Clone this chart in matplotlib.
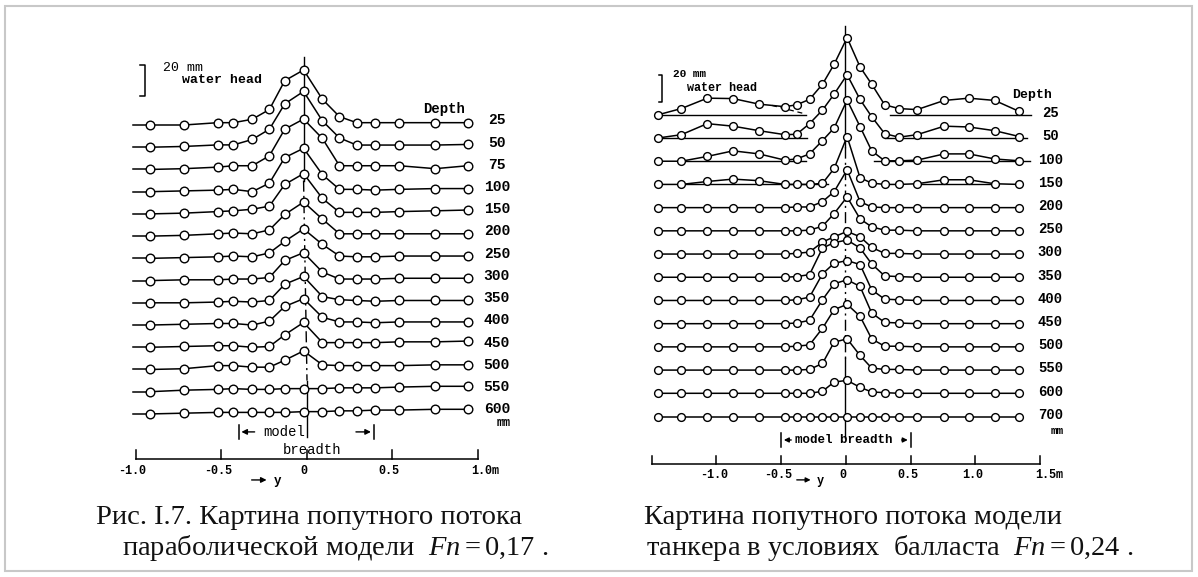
import numpy as np
import matplotlib.pyplot as plt
from matplotlib.patches import Rectangle

plt.rcParams['font.family'] = ['Liberation Serif', 'DejaVu Serif']
plt.rcParams['mathtext.fontset'] = 'custom'
plt.rcParams['mathtext.rm'] = 'Liberation Serif'
plt.rcParams['mathtext.it'] = 'Liberation Serif:italic'
MONO = ['Liberation Mono', 'DejaVu Sans Mono']

# ---- left: parabolic model, Fn = 0.17 (wake in mm water head) ----
depths_a = ['25', '50', '75', '100', '150', '200', '250', '300', '350',
            '400', '450', '500', '550', '600']
y_a = [-0.92, -0.72, -0.52, -0.43, -0.32, -0.22, -0.13, -0.02, 0.09, 0.19,
       0.29, 0.40, 0.54, 0.75, 0.94]
head_a = [
    [0, 0, 1.5, 1.5, 3.7, 10, 28.6, 35.5, 16.6, 5.4, 1.5, 1.5, 1.5, 1.5, 1.5],
    [0, 0.5, 1.5, 1.5, 5, 11.6, 28, 36, 17, 6, 1.4, 1.4, 1.4, 1.4, 1.8],
    [0, 0.5, 1.5, 2.4, 2.4, 8.8, 26, 32.5, 20, 2.4, 2.4, 2.4, 2.4, 0.5, 2.4],
    [0, 0.5, 1, 1.5, 0, 5.5, 22, 28, 11, 1.5, 1.5, 1, 1.5, 2, 2],
    [0, 0.5, 1.5, 2, 3, 5, 19, 26, 10, 1, 1, 1, 1.5, 2, 2.5],
    [0, 0.5, 1.5, 2, 1.5, 4, 14, 22, 11, 1.5, 1.5, 1.5, 1.5, 1.5, 1.5],
    [0, 0.5, 1, 1.5, 1, 3.5, 11, 19, 9, 1.5, 1, 1, 1.5, 1.5, 1.5],
    [0, 0.5, 0.5, 1, 1, 2, 13, 18, 5.5, 1, 1, 1, 1.5, 1.5, 1.5],
    [0, 0, 0.5, 1, 0.5, 1.5, 12, 17, 4, 2, 1.5, 1, 1.5, 1.5, 1.5],
    [0, 0.5, 1, 1, 0, 2.5, 12, 17, 5, 2, 2, 1.5, 2, 2, 2],
    [0, 0.5, 1, 1, 0, 0.5, 8, 16, 3, 3, 3, 3, 3.5, 3.5, 4],
    [0, 0.5, 2.5, 2.5, 1.5, 1.5, 6, 12, 3, 2.5, 2.5, 2.5, 2.5, 3, 3],
    [0, 1, 1.5, 2, 1.5, 1.5, 2, 2, 2, 2.5, 2.5, 2.5, 3, 3.5, 3.5],
    [0, 0.5, 1, 1, 1, 1, 1, 1.5, 1.5, 2, 2, 2.5, 2.5, 3, 3],
]
ticks_a = [-1.0, -0.5, 0.0, 0.5, 1.0]
ticklabels_a = ['-1.0', '-0.5', '0', '0.5', '1.0m']

# ---- right: tanker in ballast, Fn = 0.24 ----
depths_b = ['25', '50', '100', '150', '200', '250', '300', '350', '400',
            '450', '500', '550', '600', '700']
y_b = [-1.45, -1.27, -1.07, -0.87, -0.67, -0.47, -0.38, -0.28, -0.18, -0.09,
       0.01, 0.11, 0.20, 0.30, 0.41, 0.55, 0.76, 0.95, 1.15, 1.34]
head_b = [
    [0, 4.7, 12.5, 12.2, 8, 6.1, 7.5, 11.6, 23, 38, 58, 36, 23, 7.5, 4.7, 3.9, 10.8, 12.5, 10.8, 2.5],
    [0, 2.5, 10.8, 8.9, 5.5, 2.5, 2.8, 10.8, 21, 33, 47.6, 29, 16, 3.3, 0.6, 2.5, 8.9, 8.3, 5.5, 1.1],
    [0, 0, 3.6, 7.8, 5.5, 0.8, 1.7, 5.5, 15.5, 25, 46, 26, 7.8, 0.3, 0.3, 0.8, 5.5, 5.5, 1.7, 0.3],
    [0, 0, 2.2, 4, 2.8, 0, 0, 0, 0.8, 12, 36, 5, 1, 0, 0, 0.5, 3.5, 3.5, 0.5, 0],
    [0, 0, 0, 0, 0, 0, 0.5, 0.5, 4.5, 12, 28.5, 4.5, 0.5, 0, 0, 0, 0, 0, 0, 0],
    [0, 0, 0, 0, 0, 0, 0, 0.5, 3.5, 13, 25.5, 9, 3, 0.5, 0.5, 0, 0, 0, 0, 0],
    [0, 0, 0, 0, 0, 0, 0.5, 1.5, 9, 13, 17, 13, 5, 0.5, 0.5, 0, 0, 0, 0, 0],
    [0, 0, 0, 0, 0, 0, 0.5, 2, 22, 26, 28, 22, 10, 1, 0.5, 0, 0, 0, 0, 0],
    [0, 0, 0, 0, 0, 0, 0.5, 2.5, 20, 28, 30, 27, 8, 1, 0.5, 0, 0, 0, 0, 0],
    [0, 0, 0, 0, 0, 0, 0.5, 2.5, 18, 30, 33, 28, 8, 1, 0.5, 0, 0, 0, 0, 0],
    [0, 0, 0, 0, 0, 0, 0.5, 1.5, 14, 28, 32, 23, 6, 0.5, 0.5, 0, 0, 0, 0, 0],
    [0, 0, 0, 0, 0, 0, 0, 0.5, 5, 21, 23.5, 11, 1.5, 0.5, 0.5, 0, 0, 0, 0, 0],
    [0, 0, 0, 0, 0, 0, 0, 0, 1.5, 8.5, 9.7, 4.5, 1, 0.5, 0, 0, 0, 0, 0, 0],
    [0] * 20,
]
# zero lines drawn under the side humps of the upper rows
zero_left_b = [(-1.45, -0.31), (-1.45, -0.30), (-1.26, -0.31), (-1.28, -0.14)]
zero_right_b = [(0.34, 1.43), (0.30, 1.40), (0.22, 1.42), (0.55, 1.14)]
ticks_b = [-1.5, -1.0, -0.5, 0.0, 0.5, 1.0, 1.5]
ticklabels_b = ['', '-1.0', '-0.5', '0', '0.5', '1.0', '1.5m']


def panel(ax, x0_px, zero_px, px_m, base_px, px_mm):
    w = 599
    ax.set_xlim((x0_px - zero_px) / px_m, (x0_px + w - zero_px) / px_m)
    ax.set_ylim(-(577 - base_px) / px_mm, base_px / px_mm)
    ax.axis('off')


def profiles(ax, y, heads, step, ms, lead=0.0):
    for i, h in enumerate(heads):
        base = -i * step
        yy = np.array(y, dtype=float)
        hh = np.array(h, dtype=float) + base
        if lead:
            ax.plot([yy[0] - lead, yy[0]], [hh[0], hh[0]], color='k', lw=1.1)
        ax.plot(yy, hh, '-o', color='k', lw=1.1, ms=ms, mfc='white',
                mec='k', mew=1.0, zorder=3)


def arrow(ax, tip, tail, yv, ms=8):
    ax.annotate('', xy=(tip, yv), xytext=(tail, yv),
                arrowprops=dict(arrowstyle='-|>', color='k', lw=1.0,
                                mutation_scale=ms))


fig = plt.figure(figsize=(11.98, 5.77), dpi=100)
fig.patches.append(Rectangle((5 / 1198, 6 / 577), 1187 / 1198, 565 / 577,
                             transform=fig.transFigure, fill=False,
                             ec='#c8c8c8', lw=1.5))

# ---------------- left panel ----------------
ax = fig.add_axes([0, 0, 599 / 1198, 1])
step_a = 14.34
panel(ax, 0, 307, 171, 125, 1.55)
profiles(ax, y_a, head_a, step_a, 6.2, lead=0.1)
n = len(depths_a)
ax.plot([-0.02, -0.02], [44, -2.5 * step_a], color='k', lw=1.0)
ax.plot([-0.02, 0.0], [-2.5 * step_a, -11.5 * step_a], color='k', lw=1.0,
        ls=(0, (8, 3, 1.5, 3)))
ax.plot([0.0, 0.0], [-11.5 * step_a, -(n - 1) * step_a - 15], color='k', lw=1.0)
for i, d in enumerate(depths_a):
    ax.text(1.11, -i * step_a + 3, d, family=MONO, fontsize=10.5,
            ha='center', va='center', weight='bold')
ax.text(0.80, 10.5, 'Depth', family=MONO, fontsize=10, weight='bold',
        ha='center', va='center')
ax.text(1.15, -(n - 1) * step_a - 6, 'mm', family=MONO, fontsize=8.5,
        weight='bold', ha='center', va='center')
# 20 mm scale
ax.plot([-0.975, -0.947, -0.947, -0.975], [18.7, 18.7, 38.7, 38.7],
        color='k', lw=1.1)
ax.text(-0.84, 36.8, '20 mm', family=MONO, fontsize=9.5, va='center')
ax.text(-0.73, 29.0, 'water head', family=MONO, fontsize=9.5,
        weight='bold', va='center')
# model breadth
yb_ = -198
ax.plot([-0.40, -0.40], [yb_ - 4.5, yb_ + 4.5], color='k', lw=1.1)
ax.plot([0.39, 0.39], [yb_ - 4.5, yb_ + 4.5], color='k', lw=1.1)
arrow(ax, -0.40, -0.29, yb_)
arrow(ax, 0.39, 0.27, yb_)
ax.text(-0.135, yb_, 'model', family=MONO, fontsize=10, ha='center',
        va='center')
ax.text(0.03, yb_ - 11.5, 'breadth', family=MONO, fontsize=10,
        ha='center', va='center')
# metre scale
ya_ax = -215.5
ax.plot([ticks_a[0], ticks_a[-1]], [ya_ax, ya_ax], color='k', lw=1.1)
for t, lab in zip(ticks_a, ticklabels_a):
    ax.plot([t, t], [ya_ax, ya_ax + 6], color='k', lw=1.1)
    ax.text(t + (0.04 if lab.endswith('m') else -0.02), ya_ax - 7.5, lab,
            family=MONO, fontsize=8.5, weight='bold', ha='center', va='center')
arrow(ax, -0.22, -0.34, -229)
ax.text(-0.17, -229.5, 'y', family=MONO, fontsize=9, weight='bold',
        ha='center', va='center')

# ---------------- right panel ----------------
bx = fig.add_axes([599 / 1198, 0, 599 / 1198, 1])
step_b = 17.45
panel(bx, 599, 845.8, 129.5, 114.8, 1.33)
for i, ((l0, l1), (r0, r1)) in enumerate(zip(zero_left_b, zero_right_b)):
    bx.plot([l0, l1], [-i * step_b] * 2, color='k', lw=1.0)
    bx.plot([r0, r1], [-i * step_b] * 2, color='k', lw=1.0)
# dashed fairing of the first row's side hump down to its zero line
bx.plot([(y_b[4] + y_b[5]) / 2, zero_left_b[0][1]],
        [(head_b[0][4] + head_b[0][5]) / 2, 0.6], color='k', lw=0.9,
        ls=(0, (4, 3)))
profiles(bx, y_b, head_b, step_b, 5.6)
m = len(depths_b)
bx.plot([-0.008, -0.008], [67, -1.4 * step_b], color='k', lw=1.0)
bx.plot([-0.008, -0.008], [-1.4 * step_b, -10.5 * step_b], color='k',
        lw=1.0, ls=(0, (8, 3, 1.5, 3)))
bx.plot([-0.008, -0.008], [-10.5 * step_b, -(m - 1) * step_b - 16],
        color='k', lw=1.0)
for i, d in enumerate(depths_b):
    bx.text(1.58, -i * step_b + 1.2, d, family=MONO, fontsize=10,
            ha='center', va='center', weight='bold')
bx.text(1.44, 15, 'Depth', family=MONO, fontsize=9.5, weight='bold',
        ha='center', va='center')
bx.text(1.63, -(m - 1) * step_b - 11, 'mm', family=MONO, fontsize=8,
        weight='bold', ha='center', va='center')
bx.plot([-1.445, -1.42, -1.42, -1.445], [9.8, 9.8, 29.8, 29.8],
        color='k', lw=1.1)
bx.text(-1.335, 31.0, '20 mm', family=MONO, fontsize=8, weight='bold',
        va='center')
bx.text(-1.23, 20.0, 'water head', family=MONO, fontsize=8.5,
        weight='bold', va='center')
yb2 = -244.5
bx.plot([-0.5, -0.5], [yb2 - 5, yb2 + 5], color='k', lw=1.1)
bx.plot([0.5, 0.5], [yb2 - 5, yb2 + 5], color='k', lw=1.1)
arrow(bx, -0.5, -0.40, yb2, 7)
arrow(bx, 0.5, 0.41, yb2, 7)
bx.text(-0.015, yb2, 'model breadth', family=MONO, fontsize=9,
        weight='bold', ha='center', va='center')
yb_ax = -262.5
bx.plot([ticks_b[0], ticks_b[-1]], [yb_ax, yb_ax], color='k', lw=1.1)
for t, lab in zip(ticks_b, ticklabels_b):
    bx.plot([t, t], [yb_ax, yb_ax + 6], color='k', lw=1.1)
    bx.text(t + (0.07 if lab.endswith('m') else -0.02), yb_ax - 8, lab,
            family=MONO, fontsize=8.5, weight='bold', ha='center', va='center')
arrow(bx, -0.25, -0.40, -274.5, 7)
bx.text(-0.2, -275, 'y', family=MONO, fontsize=8.5, weight='bold',
        ha='center', va='center')

# ---------------- captions ----------------
cap = dict(fontsize=20.5, va='center', ha='left', color='#111111')
fig.text(96 / 1198, 1 - 517 / 577, 'Рис. I.7. Картина попутного потока', **cap)
fig.text(122 / 1198, 1 - 548 / 577, 'параболической модели  $Fn = 0{,}17$ .', **cap)
fig.text(644 / 1198, 1 - 517 / 577, 'Картина попутного потока модели', **cap)
fig.text(646 / 1198, 1 - 548 / 577, 'танкера в условиях  балласта  $Fn = 0{,}24$ .', **cap)

fig.savefig('out.png', dpi=100, facecolor='white')
